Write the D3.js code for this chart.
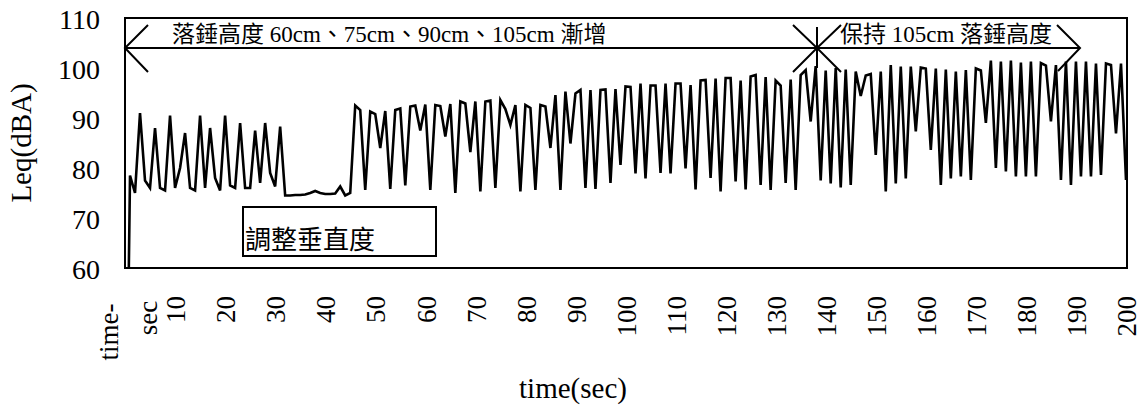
<html lang="en">
<head>
<meta charset="UTF-8"/>
<title>Leq time series</title>
<script src="https://d3js.org/d3.v7.min.js"></script>
<style>
    body { margin: 0; background: white; }
    text { font-family: "Liberation Serif", "Noto Sans CJK TC", serif; fill: black; }
</style>
</head>
<body>
<script>
    // Leq(dBA) read once per second, index = seconds (0..200)
    var leq = [0, 78.5, 75, 91, 77.5, 76, 88, 76, 75.5, 90.5,
        76, 80, 87, 76, 75.5, 90.5, 76, 88, 78, 75.5,
        90.5, 76.5, 76, 89, 76, 76, 87.5, 77, 89, 79,
        76.3, 88.3, 74.5, 74.5, 74.6, 74.6, 74.7, 75, 75.4, 75,
        74.8, 74.8, 74.9, 76.3, 74.5, 75, 92.5, 91.6, 75.6, 91.3,
        90.8, 84, 91.4, 75.8, 91.6, 91.9, 76.5, 92.3, 92.5, 87.5,
        92.7, 75.6, 92.6, 92.4, 86.3, 92.8, 75, 93.3, 92.9, 83.2,
        93.3, 75.3, 93.3, 93.5, 76, 93.6, 91.8, 88.6, 92.6, 75.3,
        92.6, 92, 75.6, 92.6, 92.3, 84, 94.6, 75.6, 95.3, 84.9,
        94.9, 95.6, 76, 95.6, 75.8, 95.6, 95.7, 77, 95.8, 80.6,
        96.3, 96.2, 78.9, 96.9, 77.9, 96.5, 96.5, 79, 96.9, 78.9,
        96.9, 96.9, 79.9, 96.6, 75.7, 97.5, 97.6, 78, 97.9, 75.3,
        98, 98, 77.3, 97.5, 75.7, 98.3, 98.6, 76.6, 98.2, 75.6,
        97.5, 96.5, 77, 97.7, 75.6, 98.6, 99.6, 89.3, 100.4, 77.5,
        99.5, 76.9, 100, 76.1, 99.7, 76.6, 99.3, 94.4, 98.5, 98.8,
        82.6, 99.3, 75.3, 100.6, 76.9, 100.3, 77.9, 100.3, 87.3, 100.1,
        99.9, 83.6, 99.9, 76.6, 99.7, 77.9, 99.3, 78.3, 99.6, 77.6,
        99.9, 99.5, 89, 101.5, 80, 101.3, 79.3, 101.5, 78.3, 101.1,
        78.3, 101.3, 78.3, 101, 100.5, 89.3, 100.6, 77.6, 101.3, 76.6,
        101.3, 78.3, 101.3, 78.3, 100.9, 78.6, 100.9, 100.6, 86.9, 100.9,
        77.6];

    var xTickValues = [0, 10, 20, 30, 40, 50, 60, 70, 80, 90, 100,
        110, 120, 130, 140, 150, 160, 170, 180, 190, 200];
    var xTickLabels = ["time-sec", "10", "20", "30", "40", "50", "60", "70", "80", "90", "100",
        "110", "120", "130", "140", "150", "160", "170", "180", "190", "200"];
    var yTickValues = [60, 70, 80, 90, 100, 110];

    var w = 1143;
    var h = 412;
    var plotL = 125, plotR = 1127, plotT = 18, plotB = 268;

    var xScale = d3.scaleLinear().domain([0, 200]).range([plotL, 1126]);
    var yScale = d3.scaleLinear().domain([60, 110]).range([plotB, plotT]);

    var svg = d3.select("body")
                .append("svg")
                .attr("width", w)
                .attr("height", h);

    svg.append("rect").attr("width", w).attr("height", h).attr("fill", "white");

    svg.append("clipPath")
        .attr("id", "plotclip")
        .append("rect")
        .attr("x", plotL)
        .attr("y", plotT)
        .attr("width", plotR - plotL)
        .attr("height", plotB - plotT);

    // the series
    var line = d3.line()
        .x(function(d, i) { return xScale(i); })
        .y(function(d) { return yScale(d); });

    svg.append("path")
        .datum(leq)
        .attr("clip-path", "url(#plotclip)")
        .attr("fill", "none")
        .attr("stroke", "black")
        .attr("stroke-width", 2.6)
        .attr("stroke-linejoin", "miter")
        .attr("d", line);

    // plot frame
    svg.append("rect")
        .attr("x", plotL)
        .attr("y", plotT)
        .attr("width", plotR - plotL)
        .attr("height", plotB - plotT)
        .attr("fill", "none")
        .attr("stroke", "black")
        .attr("stroke-width", 2);

    // y axis
    var yAxis = svg.append("g")
        .attr("transform", "translate(" + plotL + ",0)")
        .call(d3.axisLeft(yScale).tickValues(yTickValues).tickSize(0).tickPadding(25));
    yAxis.select(".domain").remove();
    yAxis.selectAll("text")
        .attr("font-family", "Liberation Serif")
        .attr("font-size", 28)
        .attr("dy", "0.36em");

    // x axis, labels turned upright
    var xAxis = svg.append("g")
        .attr("transform", "translate(0," + plotB + ")")
        .call(d3.axisBottom(xScale).tickValues(xTickValues)
            .tickFormat(function(d, i) { return xTickLabels[i]; })
            .tickSize(0));
    xAxis.select(".domain").remove();
    xAxis.selectAll("text")
        .attr("font-family", "Liberation Serif")
        .attr("font-size", 27)
        .attr("transform", "rotate(-90)")
        .attr("text-anchor", "end")
        .attr("x", -28)
        .attr("y", 0)
        .attr("dy", "0.36em");

    // first label wraps on two lines
    var first = xAxis.select(".tick text");
    var parts = xTickLabels[0].split("-");
    first.text(null).attr("dy", null).attr("text-anchor", "middle").attr("x", -64);
    first.append("tspan").attr("x", -64).attr("y", -8).text(parts[0] + "-");
    first.append("tspan").attr("x", -50).attr("y", 31).text(parts[1]);

    // axis titles
    svg.append("text")
        .attr("x", 573)
        .attr("y", 398)
        .attr("text-anchor", "middle")
        .attr("font-size", 29)
        .text("time(sec)");

    svg.append("text")
        .attr("transform", "translate(31,143) rotate(-90)")
        .attr("text-anchor", "middle")
        .attr("font-size", 29)
        .text("Leq(dBA)");

    // annotations
    var ann = svg.append("g").attr("stroke", "black").attr("stroke-width", 2).attr("fill", "none");
    var arrowY = 48;
    ann.append("line").attr("x1", plotL).attr("y1", arrowY).attr("x2", 1080).attr("y2", arrowY);
    ann.append("polyline").attr("points", "148,25 " + plotL + "," + arrowY + " 148,72");
    ann.append("polyline").attr("points", "793,25 817," + arrowY + " 793,72");
    ann.append("polyline").attr("points", "841,25 817," + arrowY + " 841,72");
    ann.append("line").attr("x1", 817).attr("y1", 27).attr("x2", 817).attr("y2", 68);
    ann.append("polyline").attr("points", "1057,25 1080," + arrowY + " 1058,71");

    svg.append("text")
        .attr("x", 172)
        .attr("y", 42)
        .attr("font-size", 23)
        .text("落錘高度 60cm、75cm、90cm、105cm 漸增");

    svg.append("text")
        .attr("x", 840)
        .attr("y", 42)
        .attr("font-size", 23)
        .text("保持 105cm 落錘高度");

    svg.append("rect")
        .attr("x", 243)
        .attr("y", 207)
        .attr("width", 193)
        .attr("height", 49)
        .attr("fill", "white")
        .attr("stroke", "black")
        .attr("stroke-width", 2);

    svg.append("text")
        .attr("x", 245)
        .attr("y", 249)
        .attr("font-size", 26)
        .text("調整垂直度");
</script>
</body>
</html>
